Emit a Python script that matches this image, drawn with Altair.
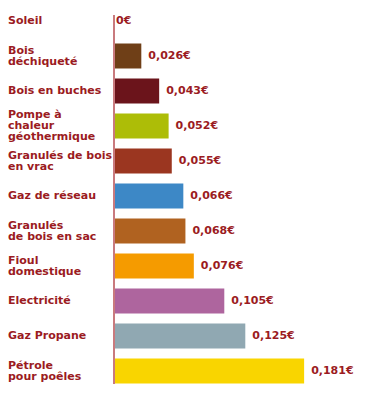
import altair as alt
import pandas as pd

categories = ["Soleil", "Bois déchiqueté", "Bois en buches", "Pompe à chaleur géothermique",
              "Granulés de bois en vrac", "Gaz de réseau", "Granulés de bois en sac",
              "Fioul domestique", "Electricité", "Gaz Propane", "Pétrole pour poêles"]
labels = ["Soleil", "Bois\ndéchiqueté", "Bois en buches", "Pompe à\nchaleur\ngéothermique",
          "Granulés de bois\nen vrac", "Gaz de réseau", "Granulés\nde bois en sac",
          "Fioul\ndomestique", "Electricité", "Gaz Propane", "Pétrole\npour poêles"]
values = [0, 0.026, 0.043, 0.052, 0.055, 0.066, 0.068, 0.076, 0.105, 0.125, 0.181]
value_text = ["0€", "0,026€", "0,043€", "0,052€", "0,055€", "0,066€", "0,068€",
              "0,076€", "0,105€", "0,125€", "0,181€"]
colors = ["#f9d500", "#6f3f17", "#6b141b", "#adbd07", "#9b3620", "#3d88c6",
          "#b06220", "#f59b00", "#ae659e", "#90a8b2", "#f9d500"]

df = pd.DataFrame({"cat": categories, "label": labels, "value": values, "vt": value_text})
df["nlines"] = df["label"].str.count("\n") + 1

TEXT = "#9b1b22"
FONT = "DejaVu Sans"
LH = 11

xscale = alt.Scale(domain=[0, 0.238], zero=True, nice=False)
yscale = alt.Scale(domain=categories, paddingInner=0.2857, paddingOuter=0.0714, align=0.1)

base = alt.Chart(df)
Y = alt.Y("cat:N", scale=yscale, axis=None, sort=categories)
X = alt.X("value:Q", scale=xscale, axis=None)

bars = base.mark_bar().encode(
    x=X, y=Y,
    color=alt.Color("cat:N", scale=alt.Scale(domain=categories, range=colors), legend=None),
)

axis_line = alt.Chart(pd.DataFrame({"value": [0]})).mark_rule(color="#c97a7e", strokeWidth=2).encode(
    x=X, y=alt.value(7), y2=alt.value(376)
)

cat_layers = []
for n in (1, 2, 3):
    cat_layers.append(
        base.transform_filter(f"datum.nlines == {n}").mark_text(
            align="left", baseline="middle", font=FONT, fontWeight="bold", fontSize=11,
            lineHeight=LH, lineBreak="\n", color=TEXT, dy=-(n - 1) * LH / 2
        ).encode(x=alt.value(-106), y=Y, text="label:N")
    )

val_labels = base.transform_filter("datum.value > 0").mark_text(
    align="left", baseline="middle", font=FONT, fontWeight="bold", fontSize=11,
    dx=7, color=TEXT
).encode(x=X, y=Y, text="vt:N")

zero_label = base.transform_filter("datum.value == 0").mark_text(
    align="left", baseline="middle", font=FONT, fontWeight="bold", fontSize=11,
    dx=2, color=TEXT
).encode(x=X, y=Y, text="vt:N")

chart = alt.layer(bars, axis_line, *cat_layers, val_labels, zero_label).properties(
    width=250, height=380,
    autosize=alt.AutoSizeParams(type="none"),
    padding={"left": 106, "top": 0, "right": 0, "bottom": 0},
).configure_view(stroke=None)

chart.save("out.html", embed_options={"renderer": "svg", "actions": False})
